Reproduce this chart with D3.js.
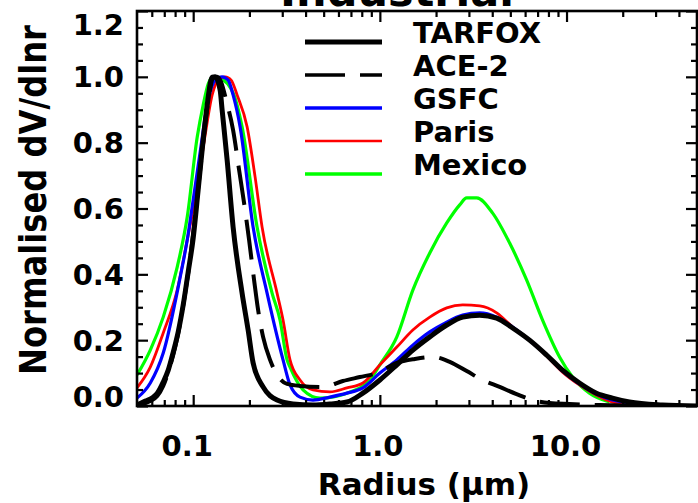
<!DOCTYPE html>
<html><head><meta charset="utf-8">
<script src="https://cdn.jsdelivr.net/npm/d3@7"></script>
<style>
body{margin:0;background:#fff}
svg{display:block}
text{font-family:"DejaVu Sans",sans-serif;font-weight:bold;fill:#000}
</style>
</head><body>
<svg id="c" width="698" height="503"></svg>
<script>
// ---------------- data (radius in µm, normalised dV/dlnr) ----------------
const title = "Industrial";
const xLabel = "Radius (\u03bcm)";
const yLabel = "Normalised dV/dlnr";
const seriesNames = ["TARFOX", "ACE-2", "GSFC", "Paris", "Mexico"];

const tarfox = [[0.050,0.003],[0.0554,0.015],[0.0611,0.027],[0.0642,0.039],[0.0691,0.073],[0.0735,0.109],
  [0.0782,0.164],[0.0831,0.225],[0.0884,0.307],[0.0940,0.407],[0.100,0.510],[0.1063,0.656],[0.1131,0.808],
  [0.1188,0.914],[0.1264,0.999],[0.131,1.0],[0.1394,0.960],[0.1429,0.899],[0.152,0.747],[0.1636,0.544],
  [0.1828,0.343],[0.1969,0.231],[0.2094,0.131],[0.2368,0.058],[0.2814,0.018],[0.3426,0.006],[0.4383,0.003],
  [0.540,0.006],[0.666,0.012],[0.811,0.039],[1.0,0.079],[1.233,0.125],[1.502,0.170],[1.851,0.210],
  [2.282,0.246],[2.779,0.270],[3.426,0.276],[4.224,0.267],[5.143,0.237],[6.34,0.200],[7.816,0.155],
  [9.52,0.109],[11.73,0.070],[14.47,0.039],[17.62,0.024],[21.73,0.012],[32.61,0.003],[50,0.0]];

const ace2 = [[0.0521,0.003],[0.0589,0.015],[0.0642,0.030],[0.0691,0.061],[0.0753,0.122],[0.0801,0.179],
  [0.0852,0.252],[0.0906,0.343],[0.0964,0.450],[0.1025,0.580],[0.109,0.717],[0.1159,0.854],[0.1218,0.945],
  [0.1279,0.996],[0.1344,1.0],[0.1411,0.984],[0.150,0.930],[0.1636,0.838],[0.1762,0.717],[0.1897,0.595],
  [0.1993,0.504],[0.2119,0.383],[0.2227,0.292],[0.2368,0.210],[0.2581,0.140],[0.2779,0.100],[0.3183,0.067],
  [0.3735,0.061],[0.4958,0.058],[0.634,0.076],[0.782,0.088],[0.964,0.100],[1.233,0.131],[1.539,0.143],
  [1.92,0.149],[2.368,0.134],[2.919,0.106],[3.555,0.079],[4.383,0.058],[5.40,0.036],[6.579,0.018],
  [8.11,0.009],[10.38,0.006],[15.0,0.003],[27.8,0.0]];

const gsfc = [[0.050,0.024],[0.0589,0.070],[0.0691,0.161],[0.0852,0.392],[0.0929,0.504],[0.100,0.626],
  [0.109,0.772],[0.1203,0.930],[0.1311,0.990],[0.1429,1.0],[0.1539,0.990],[0.1636,0.945],[0.1784,0.848],
  [0.2094,0.544],[0.2488,0.343],[0.303,0.140],[0.3302,0.064],[0.3735,0.027],[0.4383,0.018],[0.540,0.027],
  [0.666,0.039],[0.811,0.055],[1.0,0.100],[1.233,0.140],[1.502,0.185],[1.851,0.225],[2.282,0.255],
  [2.779,0.276],[3.426,0.283],[4.224,0.270],[5.143,0.240],[6.34,0.200],[7.816,0.155],[9.52,0.106],
  [11.73,0.067],[14.47,0.036],[17.62,0.018],[21.73,0.009],[32.61,0.003]];

const paris = [[0.050,0.055],[0.0589,0.118],[0.0691,0.222],[0.0821,0.352],[0.0929,0.504],[0.1051,0.665],
  [0.1159,0.823],[0.1264,0.945],[0.136,0.990],[0.1483,1.0],[0.1597,0.990],[0.1719,0.945],[0.1945,0.848],
  [0.2146,0.696],[0.2339,0.544],[0.2814,0.343],[0.303,0.261],[0.3302,0.140],[0.3735,0.079],[0.4383,0.049],
  [0.540,0.043],[0.666,0.055],[0.811,0.070],[1.0,0.125],[1.233,0.179],[1.502,0.231],[1.851,0.270],
  [2.282,0.298],[2.779,0.307],[3.426,0.304],[4.224,0.283],[5.143,0.240],[6.34,0.200],[7.816,0.152],
  [9.52,0.103],[11.73,0.064],[14.47,0.033],[17.62,0.012],[21.73,0.006]];

const mexico = [[0.050,0.094],[0.0589,0.170],[0.0691,0.270],[0.0821,0.422],[0.0929,0.574],[0.1051,0.817],
  [0.1131,0.914],[0.1203,0.978],[0.1279,1.0],[0.1394,0.996],[0.1636,0.951],[0.1828,0.848],[0.2199,0.544],
  [0.2646,0.343],[0.292,0.261],[0.3183,0.140],[0.3302,0.118],[0.3875,0.049],[0.4776,0.024],[0.666,0.039],
  [0.884,0.079],[1.0,0.125],[1.233,0.210],[1.502,0.352],[1.851,0.465],[2.282,0.556],[2.678,0.611],
  [2.919,0.632],[3.302,0.632],[4.02,0.586],[4.958,0.495],[6.11,0.383],[7.44,0.261],[9.176,0.149],
  [10.77,0.088],[13.27,0.039],[16.98,0.012]];

const xDomain = [0.05, 50];
const yDomain = [0, 1.2];
const xMajorTicks = [0.1, 1, 10];
const xTickLabels = ["0.1", "1.0", "10.0"];
const yMajorTicks = [0, 0.2, 0.4, 0.6, 0.8, 1.0, 1.2];
const yTickLabels = ["0.0", "0.2", "0.4", "0.6", "0.8", "1.0", "1.2"];
const xMinorTicks = [0.06,0.07,0.08,0.09,0.2,0.3,0.4,0.5,0.6,0.7,0.8,0.9,2,3,4,5,6,7,8,9,20,30,40];
const yMinorTicks = [0.05,0.1,0.15,0.25,0.3,0.35,0.45,0.5,0.55,0.65,0.7,0.75,0.85,0.9,0.95,1.05,1.1,1.15];

// ---------------- drawing ----------------
const svg = d3.select("#c");
const X0 = 137, X1 = 697, Y0 = 406, Y1 = 11;
const x = d3.scaleLog().domain(xDomain).range([X0, X1]);
const y = d3.scaleLinear().domain(yDomain).range([Y0, Y1]);

svg.append("defs").append("clipPath").attr("id", "clip")
  .append("rect").attr("x", X0).attr("y", Y1).attr("width", X1 - X0).attr("height", Y0 - Y1);

// title (mostly cut off above the picture)
svg.append("text").attr("x", 397).attr("y", 6).attr("text-anchor", "middle")
  .style("font-size", "43px").text(title);

const series = [
  {name: "Mexico", data: mexico, color: "#00ff00", width: 3.2, dash: null},
  {name: "Paris", data: paris, color: "#ff0000", width: 2.8, dash: null},
  {name: "GSFC", data: gsfc, color: "#0000ff", width: 3.2, dash: null},
  {name: "ACE-2", data: ace2, color: "#000000", width: 4, dash: "40,15"},
  {name: "TARFOX", data: tarfox, color: "#000000", width: 5, dash: null}
];

const line = d3.line().x(d => x(d[0])).y(d => y(d[1])).curve(d3.curveMonotoneX);
const plot = svg.append("g").attr("clip-path", "url(#clip)");
series.forEach(s => {
  plot.append("path").attr("d", line(s.data)).attr("fill", "none")
    .attr("stroke", s.color).attr("stroke-width", s.width)
    .attr("stroke-dasharray", s.dash).attr("stroke-linejoin", "round");
});

// axes (ticks inside on all four sides)
function styleAxis(g) {
  g.select(".domain").remove();
  g.selectAll(".tick line").attr("stroke", "#000").attr("stroke-width", 2.2);
  g.selectAll(".tick text").remove();
}
const axes = [
  [d3.axisBottom, x, Y0, true], [d3.axisTop, x, Y1, true],
  [d3.axisLeft, y, X0, false], [d3.axisRight, y, X1, false]
];
axes.forEach(([fn, sc, pos, horiz]) => {
  const major = horiz ? xMajorTicks : yMajorTicks;
  const minor = horiz ? xMinorTicks : yMinorTicks;
  const tr = horiz ? `translate(0,${pos})` : `translate(${pos},0)`;
  svg.append("g").attr("transform", tr)
    .call(fn(sc).tickValues(major).tickSize(-11).tickFormat(""))
    .call(styleAxis);
  svg.append("g").attr("transform", tr)
    .call(fn(sc).tickValues(minor).tickSize(-6).tickFormat(""))
    .call(styleAxis);
});

svg.append("rect").attr("x", X0).attr("y", Y1).attr("width", X1 - X0).attr("height", Y0 - Y1)
  .attr("fill", "none").attr("stroke", "#000").attr("stroke-width", 2.6);

// tick labels
const yOffsets = {0: -9, 1.2: 14};
svg.append("g").selectAll("text").data(yMajorTicks).join("text")
  .attr("x", 124).attr("y", d => y(d) + (yOffsets[d] || 0))
  .attr("dy", "0.36em").attr("text-anchor", "end")
  .style("font-size", "29px").text((d, i) => yTickLabels[i]);

const xOffsets = [-6, -2, -1];
svg.append("g").selectAll("text").data(xMajorTicks).join("text")
  .attr("x", (d, i) => x(d) + xOffsets[i]).attr("y", 456).attr("text-anchor", "middle")
  .style("font-size", "29px").text((d, i) => xTickLabels[i]);

// axis titles
svg.append("text").attr("x", 424).attr("y", 495).attr("text-anchor", "middle")
  .style("font-size", "31px").text(xLabel);
svg.append("text").attr("transform", "translate(46,200) rotate(-90)").attr("text-anchor", "middle")
  .attr("textLength", 350).attr("lengthAdjust", "spacingAndGlyphs")
  .style("font-size", "38px").text(yLabel);

// legend
const legendOrder = ["TARFOX", "ACE-2", "GSFC", "Paris", "Mexico"];
const legendWidths = {"TARFOX": 5, "ACE-2": 3.5, "GSFC": 3.5, "Paris": 2.5, "Mexico": 3.5};
const lg = svg.append("g");
legendOrder.forEach((name, i) => {
  const s = series.find(t => t.name === name);
  const ly = 42 + i * 33;
  lg.append("line").attr("x1", 305).attr("x2", 382).attr("y1", ly).attr("y2", ly)
    .attr("stroke", s.color).attr("stroke-width", legendWidths[name]).attr("stroke-dasharray", s.dash);
  lg.append("text").attr("x", 413).attr("y", ly + 1).style("font-size", "29px").text(name);
});
</script>
</body></html>
